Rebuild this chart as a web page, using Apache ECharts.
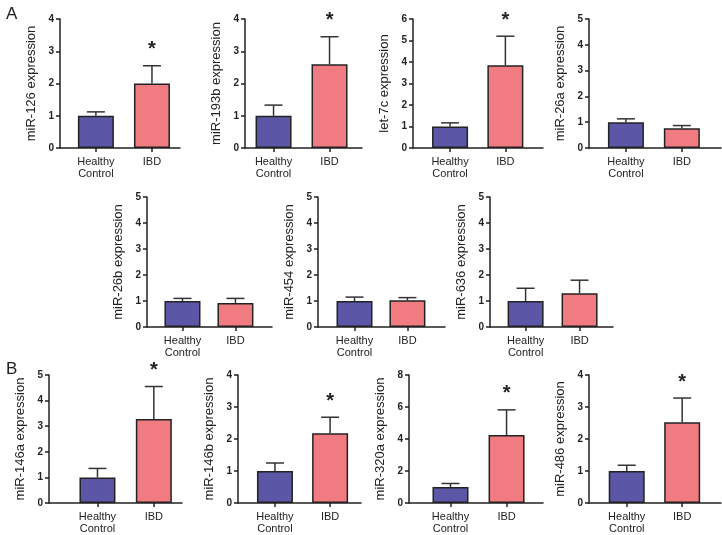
<!DOCTYPE html>
<html>
<head>
<meta charset="utf-8">
<script src="https://cdn.jsdelivr.net/npm/echarts@6/dist/echarts.min.js"></script>
<style>
  html, body { margin: 0; padding: 0; background: #fff; }
  #chart { width: 722px; height: 535px; }
</style>
</head>
<body>
<div id="chart"></div>
<script>
  // data
  const groups = ['Healthy\nControl', 'IBD']
  const mirNames = ['miR-126', 'miR-193b', 'let-7c', 'miR-26a', 'miR-26b', 'miR-454', 'miR-636',
    'miR-146a', 'miR-146b', 'miR-320a', 'miR-486']
  const healthyMean = [1, 1, 1, 1, 1, 1, 1, 1, 1, 1, 1]
  const healthyTop = [1.12, 1.33, 1.17, 1.13, 1.1, 1.15, 1.49, 1.35, 1.25, 1.22, 1.18]
  const ibdMean = [2.0, 2.6, 3.85, 0.77, 0.92, 1.03, 1.3, 3.28, 2.18, 4.25, 2.52]
  const ibdTop = [2.55, 3.45, 5.2, 0.87, 1.1, 1.13, 1.8, 4.55, 2.68, 5.82, 3.28]
  const significant = [true, true, true, false, false, false, false, true, true, true, true]
  const yMax = [4, 4, 6, 5, 5, 5, 5, 5, 4, 8, 4]
  const yStep = [1, 1, 1, 1, 1, 1, 1, 1, 1, 2, 1]

  // panel layout: [left, top, width, height], x range
  const boxes = [
    [60, 19, 120, 129], [245, 19, 117, 129], [413, 19, 130, 129], [589, 19, 132, 129],
    [147, 197, 125, 130], [318, 197, 127, 130], [490, 197, 123, 130],
    [49, 375, 133, 129], [238, 375, 123, 129], [409, 375, 134, 129], [589, 375, 132, 129]
  ]
  const xRange = [
    [0.36, 2.5], [0.49, 2.58], [0.33, 2.68], [0.34, 2.7],
    [0.33, 2.69], [0.31, 2.71], [0.34, 2.62],
    [0.14, 2.5], [0.33, 2.56], [0.26, 2.65], [0.32, 2.7]
  ]

  const colors = ['#5b56a6', '#f07c81']
  const font = 'Liberation Sans, Arial, sans-serif'

  const myChart = echarts.init(document.getElementById('chart'))

  const grid = [], xAxis = [], yAxis = [], series = []
  for (let i = 0; i < mirNames.length; i++) {
    const b = boxes[i]
    grid.push({ left: b[0], top: b[1], width: b[2], height: b[3] })
    xAxis.push({
      gridIndex: i,
      type: 'value',
      min: xRange[i][0],
      max: xRange[i][1],
      splitLine: { show: false },
      axisLine: { onZero: false, lineStyle: { color: '#222', width: 1.5 } },
      axisTick: { customValues: [1, 2], length: 4, lineStyle: { color: '#222', width: 1.5 } },
      axisLabel: {
        customValues: [1, 2],
        formatter: (v) => groups[Math.round(v) - 1],
        fontSize: 11,
        lineHeight: 12,
        margin: 8,
        color: '#222',
        fontFamily: font
      }
    })
    yAxis.push({
      gridIndex: i,
      type: 'value',
      min: 0,
      max: yMax[i],
      interval: yStep[i],
      name: mirNames[i] + ' expression',
      nameLocation: 'middle',
      nameGap: 22,
      nameTextStyle: { fontSize: 13, color: '#222', fontFamily: font },
      splitLine: { show: false },
      axisLine: { show: true, onZero: false, lineStyle: { color: '#222', width: 1.5 } },
      axisTick: { show: true, length: 4, lineStyle: { color: '#222', width: 1.5 } },
      axisLabel: { fontSize: 10, fontWeight: 'bold', color: '#222', margin: 6, fontFamily: font }
    })
    series.push({
      type: 'bar',
      xAxisIndex: i,
      yAxisIndex: i,
      barWidth: 36,
      data: [
        { value: [1, healthyMean[i]], itemStyle: { color: colors[0] } },
        { value: [2, ibdMean[i]], itemStyle: { color: colors[1] } }
      ],
      itemStyle: { borderColor: '#222', borderWidth: 1.5 },
      silent: true
    })
    series.push({
      type: 'custom',
      xAxisIndex: i,
      yAxisIndex: i,
      silent: true,
      z: 1,
      data: [
        [1, healthyMean[i], healthyTop[i], 0],
        [2, ibdMean[i], ibdTop[i], significant[i] ? 1 : 0]
      ],
      renderItem: function (params, api) {
        const base = api.coord([api.value(0), api.value(1)])
        const top = api.coord([api.value(0), api.value(2)])
        const half = 9
        const children = [
          { type: 'line', shape: { x1: base[0], y1: base[1], x2: top[0], y2: top[1] },
            style: { stroke: '#333', lineWidth: 1.5 } },
          { type: 'line', shape: { x1: top[0] - half, y1: top[1], x2: top[0] + half, y2: top[1] },
            style: { stroke: '#333', lineWidth: 1.5 } }
        ]
        if (api.value(3)) {
          children.push({
            type: 'text',
            x: top[0],
            y: top[1] - 6,
            style: { text: '*', fontSize: 20, fontWeight: 'bold', fill: '#222', fontFamily: font,
              align: 'center', verticalAlign: 'bottom' }
          })
        }
        return { type: 'group', children: children }
      }
    })
  }

  const option = {
    animation: false,
    backgroundColor: '#fff',
    grid: grid,
    xAxis: xAxis,
    yAxis: yAxis,
    series: series,
    graphic: [
      { type: 'text', left: 6, top: 6, style: { text: 'A', fontSize: 17, fill: '#222', fontFamily: font } },
      { type: 'text', left: 6, top: 361, style: { text: 'B', fontSize: 17, fill: '#222', fontFamily: font } }
    ]
  }
  myChart.setOption(option)
</script>
</body>
</html>
